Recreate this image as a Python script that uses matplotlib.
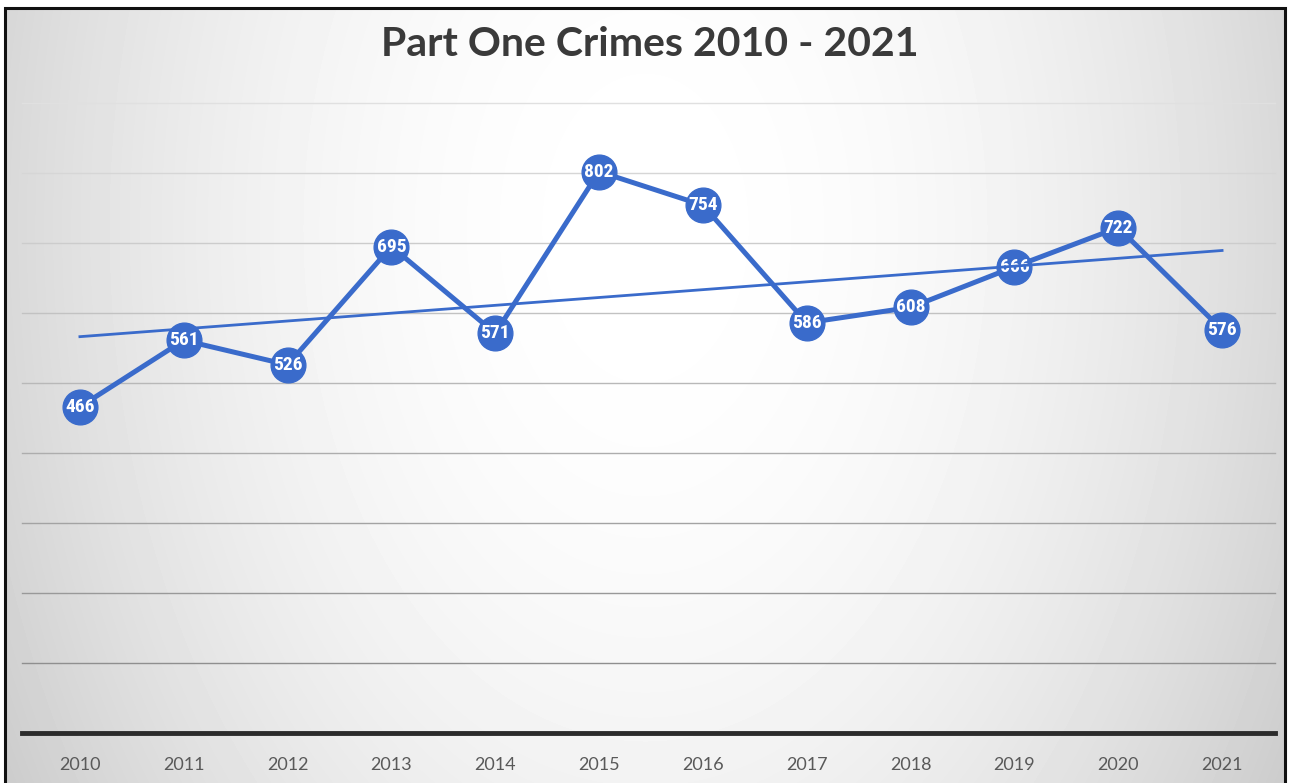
import numpy as np
import matplotlib
matplotlib.use("Agg")
import matplotlib.pyplot as plt
from matplotlib.patches import Rectangle
from matplotlib import font_manager

years = ["2010", "2011", "2012", "2013", "2014", "2015",
         "2016", "2017", "2018", "2019", "2020", "2021"]
crimes = [466, 561, 526, 695, 571, 802, 754, 586, 608, 666, 722, 576]
title = "Part One Crimes 2010 - 2021"
y_ticks = [0, 100, 200, 300, 400, 500, 600, 700, 800, 900]

names = {f.name for f in font_manager.fontManager.ttflist}
narrow = [n for n in ["Roboto Condensed", "Liberation Sans Narrow", "DejaVu Sans Condensed"] if n in names]
label_family = narrow + ["DejaVu Sans"]
tick_family = ["Lato", "DejaVu Sans"]
title_family = ["Lato", "DejaVu Sans"]

W, H, DPI = 1291, 783, 100
fig = plt.figure(figsize=(W / DPI, H / DPI), dpi=DPI)
fig.patch.set_facecolor("white")

# background radial gradient
bg = fig.add_axes([5 / W, 0, (1285 - 5) / W, 1 - 8 / H], zorder=-10)
yy, xx = np.mgrid[0:775, 0:1280]
cx, cy = 640, 220
r2 = ((xx - cx) / 700.0) ** 2 + ((yy - cy) / 1050.0) ** 2
v = np.clip(1 - 0.18 * r2, 0.78, 1.0)
bg.imshow(v, cmap="gray", vmin=0, vmax=1, aspect="auto", interpolation="bilinear")
bg.set_axis_off()

# frame
fig.patches.append(Rectangle((5 / W, -0.01), (1285 - 5) / W, 1 - 8 / H + 0.01,
                             transform=fig.transFigure, fill=False,
                             edgecolor="#111111", linewidth=2.2, zorder=20))

ax = fig.add_axes([28 / W, 1 - 733 / H, (1274 - 28) / W, (733 - 103) / H])
ax.patch.set_alpha(0)
x = np.arange(len(years))
ax.set_xlim(-0.5, len(years) - 0.5)
ax.set_ylim(y_ticks[0], y_ticks[-1])

# gridlines (darker near the bottom)
for t in y_ticks[1:]:
    frac = t / y_ticks[-1]
    g = 0.52 + 0.36 * frac
    ax.axhline(t, xmin=-0.005, xmax=1.001, color=(g, g, g), linewidth=1.0, zorder=1, clip_on=False)
ax.axhline(0, xmin=-0.005, xmax=1.001, color="#2b2b2b", linewidth=3.5, zorder=2, clip_on=False)

color = "#3A6BCB"
ax.plot(x, crimes, color=color, linewidth=3.6, marker="o", markersize=25,
        markerfacecolor=color, markeredgecolor=color, zorder=3)
for xi, yi in zip(x, crimes):
    ax.text(xi, yi, str(yi), ha="center", va="center", color="white",
            fontsize=14, fontweight="bold", family=label_family, zorder=4)

# linear trendline
coef = np.polyfit(x, crimes, 1)
ax.plot(x, np.polyval(coef, x), color=color, linewidth=2.0, zorder=5)

ax.set_xticks(x)
ax.set_xticklabels(years, color="#595959", fontsize=13, family=tick_family)
ax.tick_params(axis="x", length=0, pad=17)
ax.set_yticks([])
for s in ax.spines.values():
    s.set_visible(False)

fig.text(650 / W, 1 - 45 / H, title, ha="center", va="center",
         fontsize=29.5, fontweight="bold", color="#3a3a3a", family=title_family)

fig.savefig("out.png", dpi=DPI)
